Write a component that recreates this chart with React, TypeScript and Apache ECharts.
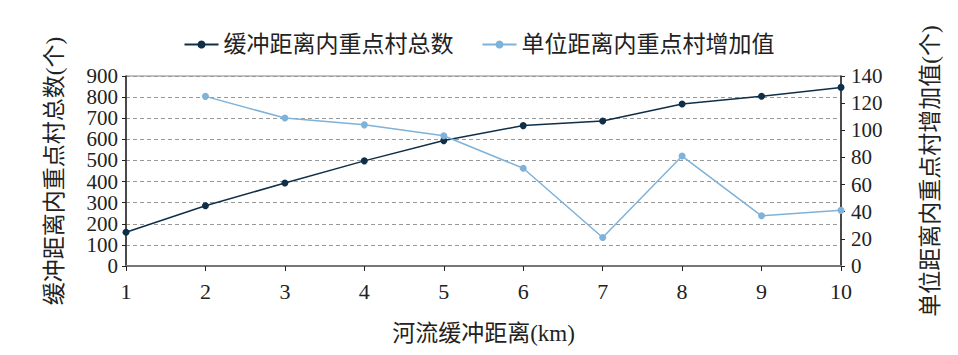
import React, { useEffect, useRef } from "react";
import * as echarts from "echarts";

const categories = ["1", "2", "3", "4", "5", "6", "7", "8", "9", "10"];
const totalVillages = [160, 285, 393, 498, 594, 665, 687, 767, 804, 846];
const increments = [null, 125, 109, 104, 96, 72, 21, 81, 37, 41];
const seriesNames = ["缓冲距离内重点村总数", "单位距离内重点村增加值"];

const NUM_FONT = "Liberation Serif";
const FONT = "Liberation Serif, Noto Sans CJK SC";

export default function App() {
  const ref = useRef<HTMLDivElement>(null);
  useEffect(() => {
    const chart = echarts.init(ref.current!, null, { renderer: "svg" });
    const tickLabel = {
      fontSize: 21,
      color: "#222",
      fontFamily: NUM_FONT,
      showMinLabel: true,
      showMaxLabel: true,
      hideOverlap: false,
    };
    chart.setOption({
      animation: false,
      textStyle: { fontFamily: FONT },
      legend: {
        top: 28,
        left: "center",
        itemGap: 28,
        itemWidth: 34,
        itemHeight: 10,
        textStyle: { fontSize: 23, color: "#222", fontFamily: FONT },
        data: seriesNames,
      },
      grid: {
        left: 126,
        right: 117,
        top: 76,
        bottom: 89,
        show: true,
        borderColor: "#888",
        borderWidth: 1,
      },
      xAxis: {
        type: "category",
        data: categories,
        boundaryGap: false,
        name: "河流缓冲距离(km)",
        nameLocation: "middle",
        nameGap: 56,
        nameMoveOverlap: false,
        nameTextStyle: { fontSize: 23, color: "#222", fontFamily: FONT },
        axisLine: { lineStyle: { color: "#777", width: 2 } },
        axisTick: { show: true, length: 5, lineStyle: { color: "#222" } },
        axisLabel: { fontSize: 22, color: "#222", margin: 14, fontFamily: NUM_FONT },
      },
      yAxis: [
        {
          type: "value",
          min: 0,
          max: 900,
          interval: 100,
          name: "缓冲距离内重点村总数(个)",
          nameLocation: "middle",
          nameRotate: 90,
          nameGap: 60,
          nameMoveOverlap: false,
          nameTextStyle: { fontSize: 23, color: "#222", fontFamily: FONT },
          axisLine: { show: true, lineStyle: { color: "#222", width: 1.5 } },
          axisTick: { show: true, length: 4, lineStyle: { color: "#222" } },
          axisLabel: { ...tickLabel, margin: 8 },
          splitLine: { show: true, lineStyle: { color: "#999", type: [4, 3], width: 1 } },
        },
        {
          type: "value",
          min: 0,
          max: 140,
          interval: 20,
          position: "right",
          name: "单位距离内重点村增加值(个)",
          nameLocation: "middle",
          nameRotate: 90,
          nameGap: 78,
          nameMoveOverlap: false,
          nameTextStyle: { fontSize: 23, color: "#222", fontFamily: FONT },
          axisLine: { show: true, lineStyle: { color: "#222", width: 1.5 } },
          axisTick: { show: true, length: 4, lineStyle: { color: "#222" } },
          axisLabel: { ...tickLabel, margin: 10 },
          splitLine: { show: false },
        },
      ],
      series: [
        {
          name: seriesNames[0],
          type: "line",
          yAxisIndex: 0,
          data: totalVillages,
          symbol: "circle",
          symbolSize: 7,
          itemStyle: { color: "#0f2e47" },
          lineStyle: { color: "#0f2e47", width: 1.5 },
        },
        {
          name: seriesNames[1],
          type: "line",
          yAxisIndex: 1,
          data: increments,
          symbol: "circle",
          symbolSize: 7,
          itemStyle: { color: "#7fb2d8" },
          lineStyle: { color: "#7fb2d8", width: 1.5 },
        },
      ],
    });
    return () => chart.dispose();
  }, []);
  return <div ref={ref} style={{ width: 958, height: 355, margin: -8 }} />;
}
